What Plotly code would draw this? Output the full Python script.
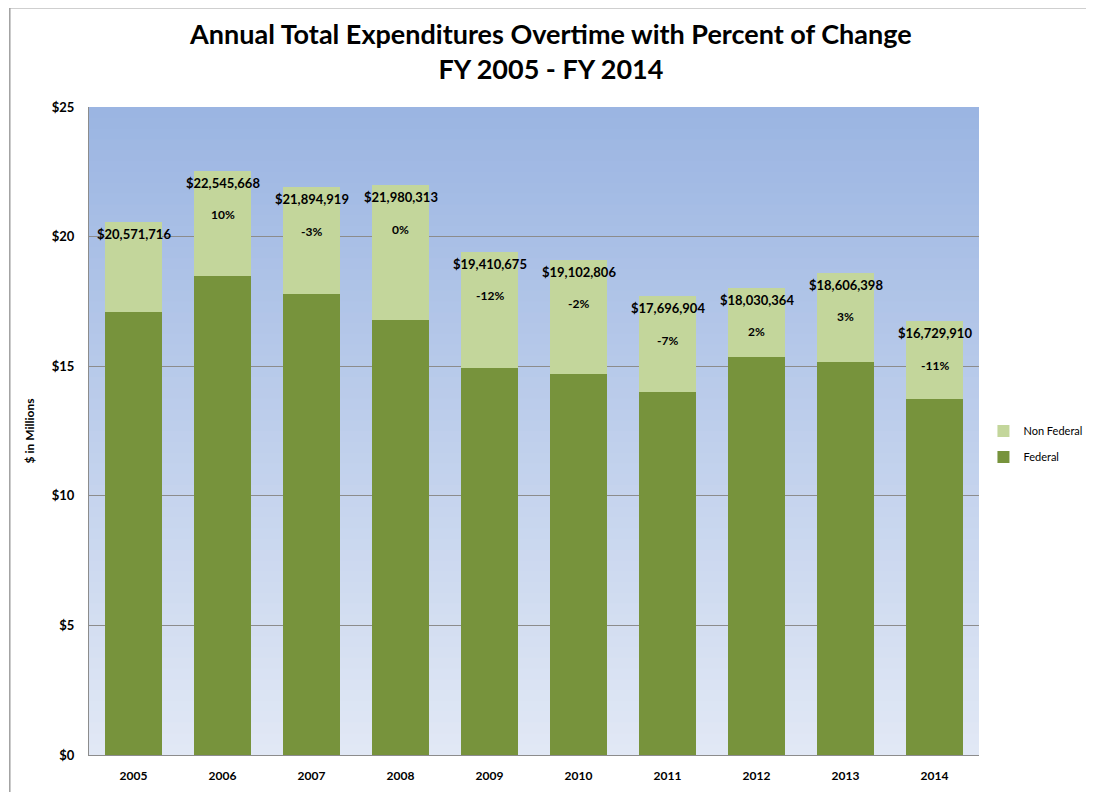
import plotly.graph_objects as go

# data (values in $ millions)
years = ["2005", "2006", "2007", "2008", "2009", "2010", "2011", "2012", "2013", "2014"]
totals = [20571716, 22545668, 21894919, 21980313, 19410675, 19102806, 17696904, 18030364, 18606398, 16729910]
federal = [17.10, 18.48, 17.80, 16.80, 14.95, 14.70, 14.00, 15.35, 15.15, 13.75]
pct_change = ["", "10%", "-3%", "0%", "-12%", "-2%", "-7%", "2%", "3%", "-11%"]

total_m = [t / 1e6 for t in totals]
non_federal = [round(t - f, 3) for t, f in zip(total_m, federal)]

colors = {
    'federal': '#77933C',
    'non_federal': '#C3D69B',
}
FONT = "Lato, Open Sans, sans-serif"

fig = go.Figure()
fig.add_trace(go.Bar(
    x=years, y=federal, name='Federal', legendgroup='fed', legendrank=2,
    marker=dict(color=colors['federal'], line=dict(width=0)),
))
fig.add_trace(go.Bar(
    x=years, y=non_federal, name='Non Federal', legendgroup='nonfed', legendrank=1,
    marker=dict(color=colors['non_federal'], line=dict(width=0)),
))

# total labels near the top of each stack, percent of change below them
# (category index used for x so numeric-looking year strings stay categorical)
for i, (tot, tm, pct) in enumerate(zip(totals, total_m, pct_change)):
    fig.add_annotation(
        x=i, y=tm, xref='x', yref='y', text=f"<b>${tot:,}</b>", showarrow=False,
        yanchor='middle', yshift=-12,
        font=dict(family=FONT, size=13, color='black'),
    )
    if pct:
        fig.add_annotation(
            x=i, y=tm, xref='x', yref='y', text=f"<b>{pct}</b>", showarrow=False,
            yanchor='middle', yshift=-44,
            font=dict(family=FONT, size=12, color='black'),
        )

# vertical gradient behind the plot area (paper coords = plot area)
top_rgb = (155, 181, 226)
bot_rgb = (225, 232, 245)
n_bands = 60
shapes = []
for i in range(n_bands):
    t = i / (n_bands - 1)
    r, g, b = [int(round(bot_rgb[k] + (top_rgb[k] - bot_rgb[k]) * t)) for k in range(3)]
    shapes.append(dict(
        type='rect', xref='paper', yref='paper',
        x0=0, x1=1, y0=i / n_bands, y1=min(1, (i + 1.6) / n_bands),
        fillcolor=f'rgb({r},{g},{b})', line=dict(width=0), layer='below',
    ))
# outer chart frame
shapes.append(dict(
    type='rect', xref='paper', yref='paper',
    x0=-0.089, x1=1.124, y0=-0.1, y1=1.153,
    line=dict(color='#A0A0A0', width=1.5), fillcolor='rgba(0,0,0,0)',
))

fig.update_layout(
    width=1094, height=792,
    barmode='stack', bargap=0.36,
    paper_bgcolor='white',
    plot_bgcolor='rgba(0,0,0,0)',
    margin=dict(l=81, r=123, t=99, b=45, autoexpand=False),
    title=dict(
        text="Annual Total Expenditures Overtime with Percent of Change<br>FY 2005 - FY 2014",
        x=0.519, xref='paper', y=0.955, yref='container', yanchor='middle',
        font=dict(family=FONT, size=27, color='black', weight='bold'),
    ),
    font=dict(family=FONT, color='black'),
    shapes=shapes,
    showlegend=True,
    legend=dict(
        traceorder='grouped', x=1.005, y=0.48, xanchor='left', yanchor='middle',
        font=dict(family=FONT, size=11, color='black'),
        bgcolor='rgba(0,0,0,0)', tracegroupgap=7, itemwidth=30,
    ),
    xaxis=dict(
        type='category', showgrid=False, showline=True, linecolor='#8C8C8C',
        tickfont=dict(family=FONT, size=12, weight='bold'), ticks='',
        ticklabelstandoff=10, automargin=False,
    ),
    yaxis=dict(
        range=[0, 25], tickvals=[0, 5, 10, 15, 20, 25],
        ticktext=["$0", "$5", "$10", "$15", "$20", "$25"],
        showgrid=True, gridcolor='#8C8C8C', gridwidth=1,
        showline=True, linecolor='#8C8C8C', zeroline=False,
        ticks='', ticklabelstandoff=11, automargin=False,
        tickfont=dict(family=FONT, size=13, weight='bold'),
        title=dict(text="$ in Millions", standoff=14,
                   font=dict(family=FONT, size=12, weight='bold')),
    ),
)

fig.write_html("out.html")
